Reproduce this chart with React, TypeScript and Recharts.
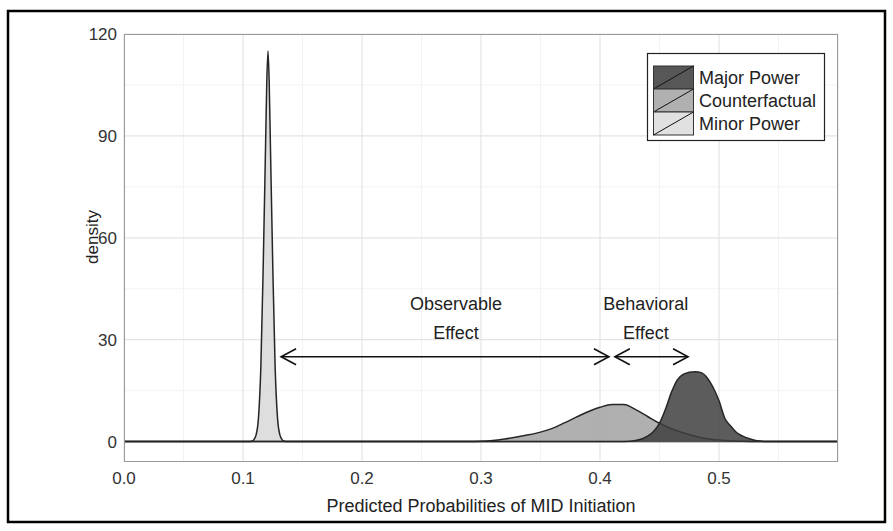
import React from 'react';
import { AreaChart, Area, XAxis, YAxis, CartesianGrid, ReferenceLine, ReferenceDot } from 'recharts';

const FONT = "'Liberation Sans', Arial, sans-serif";

// series, drawn back to front
const SERIES = ['Minor Power', 'Counterfactual', 'Major Power'];
const LEGEND_ORDER = ['Major Power', 'Counterfactual', 'Minor Power'];

const minorX = [0, 0.105, 0.107, 0.109, 0.111, 0.113, 0.115, 0.117, 0.119, 0.12, 0.121, 0.122, 0.123, 0.125, 0.127, 0.129, 0.131, 0.133, 0.135, 0.137, 0.6];
const minorDensity = [0, 0, 0.1, 0.5, 2, 7, 22, 52, 88, 106, 115, 106, 88, 52, 22, 7, 2, 0.5, 0.1, 0, 0];

const counterX = [0, 0.29, 0.3, 0.31, 0.32, 0.33, 0.34, 0.35, 0.36, 0.37, 0.38, 0.39, 0.4, 0.41, 0.42, 0.43, 0.44, 0.45, 0.46, 0.47, 0.48, 0.49, 0.5, 0.51, 0.52, 0.53, 0.54, 0.6];
const counterDensity = [0, 0, 0.1, 0.35, 0.8, 1.35, 2.0, 2.8, 3.9, 5.5, 7.2, 8.8, 10.1, 10.9, 10.9, 9.4, 7.4, 5.4, 3.8, 2.6, 1.6, 0.85, 0.45, 0.22, 0.1, 0.03, 0, 0];

const majorX = [0, 0.42, 0.43, 0.44, 0.445, 0.45, 0.455, 0.46, 0.465, 0.47, 0.475, 0.48, 0.485, 0.49, 0.495, 0.5, 0.505, 0.51, 0.515, 0.52, 0.525, 0.53, 0.535, 0.54, 0.6];
const majorDensity = [0, 0, 0.3, 1.6, 3.0, 5.4, 9.5, 14.5, 18.2, 19.8, 20.4, 20.6, 20.3, 18.8, 16.0, 12.0, 6.8, 4.5, 2.6, 1.6, 0.9, 0.4, 0.15, 0, 0];

const xTicks = [0, 0.1, 0.2, 0.3, 0.4, 0.5];
const xMajorGrid = [0, 0.1, 0.2, 0.3, 0.4, 0.5, 0.6];
const xMinorGrid = [0.05, 0.15, 0.25, 0.35, 0.45, 0.55];
const yTicks = [0, 30, 60, 90, 120];
const yMinorGrid = [15, 45, 75, 105];

// annotations
const arrowStart = [0.132, 0.4125];
const arrowEnd = [0.4075, 0.474];
const arrowY = 25;
const labelX = [0.279, 0.4385];
const labelTop = ['Observable', 'Behavioral'];
const labelBottom = ['Effect', 'Effect'];
const labelTopY = 38.7;
const labelBottomY = 30.2;

const FILL: Record<string, string> = {
  'Major Power': '#3f3f3f',
  'Counterfactual': '#a2a2a2',
  'Minor Power': '#d8d8d8',
};
const KEY_FILL: Record<string, string> = {
  'Major Power': '#575757',
  'Counterfactual': '#b0b0b0',
  'Minor Power': '#e1e1e1',
};

const seriesPoints: Record<string, [number[], number[]]> = {
  'Minor Power': [minorX, minorDensity],
  'Counterfactual': [counterX, counterDensity],
  'Major Power': [majorX, majorDensity],
};

// merge into one table keyed by x; missing values are null and skipped with connectNulls
const allX = Array.from(new Set([...minorX, ...counterX, ...majorX])).sort((a, b) => a - b);
const data = allX.map((x) => {
  const row: Record<string, number | null> = { x };
  SERIES.forEach((s) => {
    const [xs, ys] = seriesPoints[s];
    const i = xs.indexOf(x);
    row[s] = i >= 0 ? ys[i] : null;
  });
  return row;
});

const DoubleArrow = (p: any) => {
  const { x1, y1, x2, y2 } = p;
  const len = 15;
  const half = 8;
  return (
    <g stroke="#111" strokeWidth={1.6} fill="none">
      <line x1={x1} y1={y1} x2={x2} y2={y2} />
      <path d={`M${x1 + len},${y1 - half} L${x1},${y1} L${x1 + len},${y1 + half}`} />
      <path d={`M${x2 - len},${y2 - half} L${x2},${y2} L${x2 - len},${y2 + half}`} />
    </g>
  );
};

const textAt = (value: string) => (p: any) => (
  <text x={p.cx} y={p.cy} textAnchor="middle" fontFamily={FONT} fontSize={18} fill="#222">
    {value}
  </text>
);

export default function App() {
  // plot area: x 124..838, y 34..462
  return (
    <div style={{ position: 'absolute', left: 0, top: 0, width: 893, height: 531, background: '#fff' }}>
      <AreaChart width={893} height={531} data={data} margin={{ top: 34, right: 55, left: 0, bottom: 0 }}>
        <CartesianGrid stroke="#f3f3f3" strokeWidth={1} horizontalValues={yMinorGrid} verticalValues={xMinorGrid} />
        <CartesianGrid stroke="#e4e4e4" strokeWidth={1.2} horizontalValues={yTicks} verticalValues={xMajorGrid} />
        <XAxis
          dataKey="x"
          type="number"
          domain={[0, 0.6]}
          ticks={xTicks}
          tickFormatter={(v: number) => v.toFixed(1)}
          height={69}
          axisLine={false}
          tickLine={false}
          tickMargin={4}
          tick={{ fontFamily: FONT, fontSize: 17, fill: '#333' }}
          interval={0}
        />
        <YAxis
          type="number"
          domain={[-6, 120]}
          ticks={yTicks}
          width={124}
          axisLine={false}
          tickLine={false}
          tickMargin={1}
          tick={{ fontFamily: FONT, fontSize: 17, fill: '#333' }}
          interval={0}
        />
        {SERIES.map((s) => (
          <Area
            key={s}
            name={s}
            dataKey={s}
            type="monotone"
            connectNulls
            baseValue={0}
            stroke="#262626"
            strokeWidth={1.5}
            fill={FILL[s]}
            fillOpacity={0.85}
            dot={false}
            activeDot={false}
            isAnimationActive={false}
          />
        ))}
        {arrowStart.map((x0, i) => (
          <ReferenceLine
            key={`arrow-${i}`}
            segment={[{ x: x0, y: arrowY }, { x: arrowEnd[i], y: arrowY }]}
            shape={DoubleArrow}
          />
        ))}
        {labelX.map((x, i) => (
          <ReferenceDot key={`lt-${i}`} x={x} y={labelTopY} r={1} shape={textAt(labelTop[i])} />
        ))}
        {labelX.map((x, i) => (
          <ReferenceDot key={`lb-${i}`} x={x} y={labelBottomY} r={1} shape={textAt(labelBottom[i])} />
        ))}
      </AreaChart>
      <svg width={893} height={531} style={{ position: 'absolute', left: 0, top: 0, pointerEvents: 'none' }}>
        <rect x={8} y={11} width={877} height={511} fill="none" stroke="#000" strokeWidth={2.5} />
        <rect x={124.5} y={34.5} width={713} height={427} fill="none" stroke="#9a9a9a" strokeWidth={1} />
        <text x={481} y={512} textAnchor="middle" fontFamily={FONT} fontSize={18} fill="#222">
          Predicted Probabilities of MID Initiation
        </text>
        <text x={92} y={237} textAnchor="middle" dominantBaseline="central" transform="rotate(-90, 92, 237)" fontFamily={FONT} fontSize={17} fill="#222">
          density
        </text>
        <g>
          <rect x={647.5} y={53.5} width={177} height={87} fill="#fff" stroke="#222" strokeWidth={1.2} />
          {LEGEND_ORDER.map((s, i) => (
            <g key={s}>
              <rect x={653.5} y={66 + i * 23} width={40} height={23} fill={KEY_FILL[s]} stroke="#333" strokeWidth={1} />
              <line x1={653.5} y1={89 + i * 23} x2={693.5} y2={66 + i * 23} stroke="#111" strokeWidth={1} />
              <text x={699} y={83.5 + i * 23} fontFamily={FONT} fontSize={18} fill="#222">
                {s}
              </text>
            </g>
          ))}
        </g>
      </svg>
    </div>
  );
}
